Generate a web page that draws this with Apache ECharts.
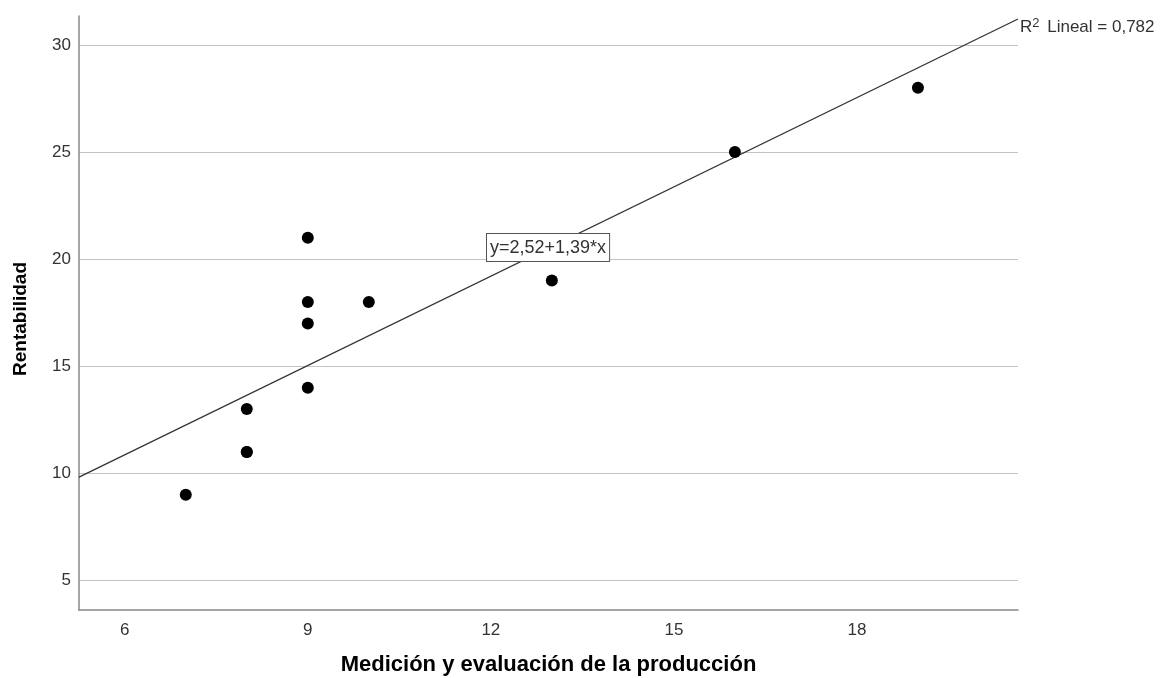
<!DOCTYPE html>
<html><head><meta charset="utf-8">
<script src="https://cdn.jsdelivr.net/npm/echarts@6/dist/echarts.min.js"></script>
<style>html,body{margin:0;padding:0;background:#fff}#c{width:1163px;height:678px}</style>
</head><body><div id="c"></div>
<script>
var xValues = [7, 8, 8, 8, 9, 9, 9, 9, 10, 13, 16, 19];
var yValues = [9, 11, 11, 13, 21, 18, 17, 14, 18, 19, 25, 28];
var xTicks = [6, 9, 12, 15, 18];
var yTicks = [5, 10, 15, 20, 25, 30];
var fitX = [5.25, 20.64];
var fitY = [9.82, 31.21];
var fitLabel = 'y=2,52+1,39*x';
var r2Label = 'R{sup|2} Lineal = 0,782';
var xTitle = 'Medición y evaluación de la producción';
var yTitle = 'Rentabilidad';

var pts = xValues.map(function(x, i){ return [x, yValues[i]]; });
var fit = fitX.map(function(x, i){ return [x, fitY[i]]; });
var font = '"Liberation Sans", Arial, sans-serif';
var chart = echarts.init(document.getElementById('c'), null, {renderer:'canvas'});
chart.setOption({
  animation: false,
  grid: {left: 79, right: 145, top: 16, bottom: 68, outerBoundsMode: 'none', containLabel: false},
  xAxis: {
    type: 'value', min: 5.25, max: 20.64,
    name: xTitle, nameLocation: 'middle', nameGap: 44,
    nameTextStyle: {fontFamily: font, fontSize: 22, fontWeight: 'bold', color: '#000'},
    axisLine: {show: true, onZero: false, lineStyle: {color: '#888', width: 1.5}},
    axisTick: {show: false, customValues: xTicks},
    axisLabel: {customValues: xTicks, fontFamily: font, fontSize: 17, color: '#333', margin: 12},
    splitLine: {show: false}
  },
  yAxis: {
    type: 'value', min: 3.62, max: 31.35,
    name: yTitle, nameLocation: 'middle', nameGap: 49, nameRotate: 90,
    nameTextStyle: {fontFamily: font, fontSize: 19, fontWeight: 'bold', color: '#000', padding: [0, 12, 0, 0]},
    axisLine: {show: true, onZero: false, lineStyle: {color: '#888', width: 1.5}},
    axisTick: {show: false, customValues: yTicks},
    axisLabel: {customValues: yTicks, fontFamily: font, fontSize: 17, color: '#333', margin: 8},
    splitLine: {show: true, lineStyle: {color: '#c4c4c4', width: 1.2}}
  },
  series: [
    {type: 'line', data: fit, symbol: 'none', silent: true,
     lineStyle: {color: '#333', width: 1.3}, z: 2},
    {type: 'scatter', data: pts, symbol: 'circle', symbolSize: 12,
     itemStyle: {color: '#000', opacity: 1}, z: 3}
  ],
  graphic: [
    {type: 'text', left: 1020, top: 17, z: 10,
     style: {text: r2Label, fontFamily: font, fontSize: 17, fill: '#333',
       rich: {sup: {fontFamily: font, fontSize: 13, fill: '#333', padding: [0, 3, 7, 0]}}}},
    {type: 'text', left: 486, top: 233, z: 10,
     style: {text: fitLabel, fontFamily: font, fontSize: 18, lineHeight: 20, fill: '#333',
       backgroundColor: '#fff', borderColor: '#555', borderWidth: 1,
       padding: [4, 3, 3, 3]}}
  ]
});
</script></body></html>
